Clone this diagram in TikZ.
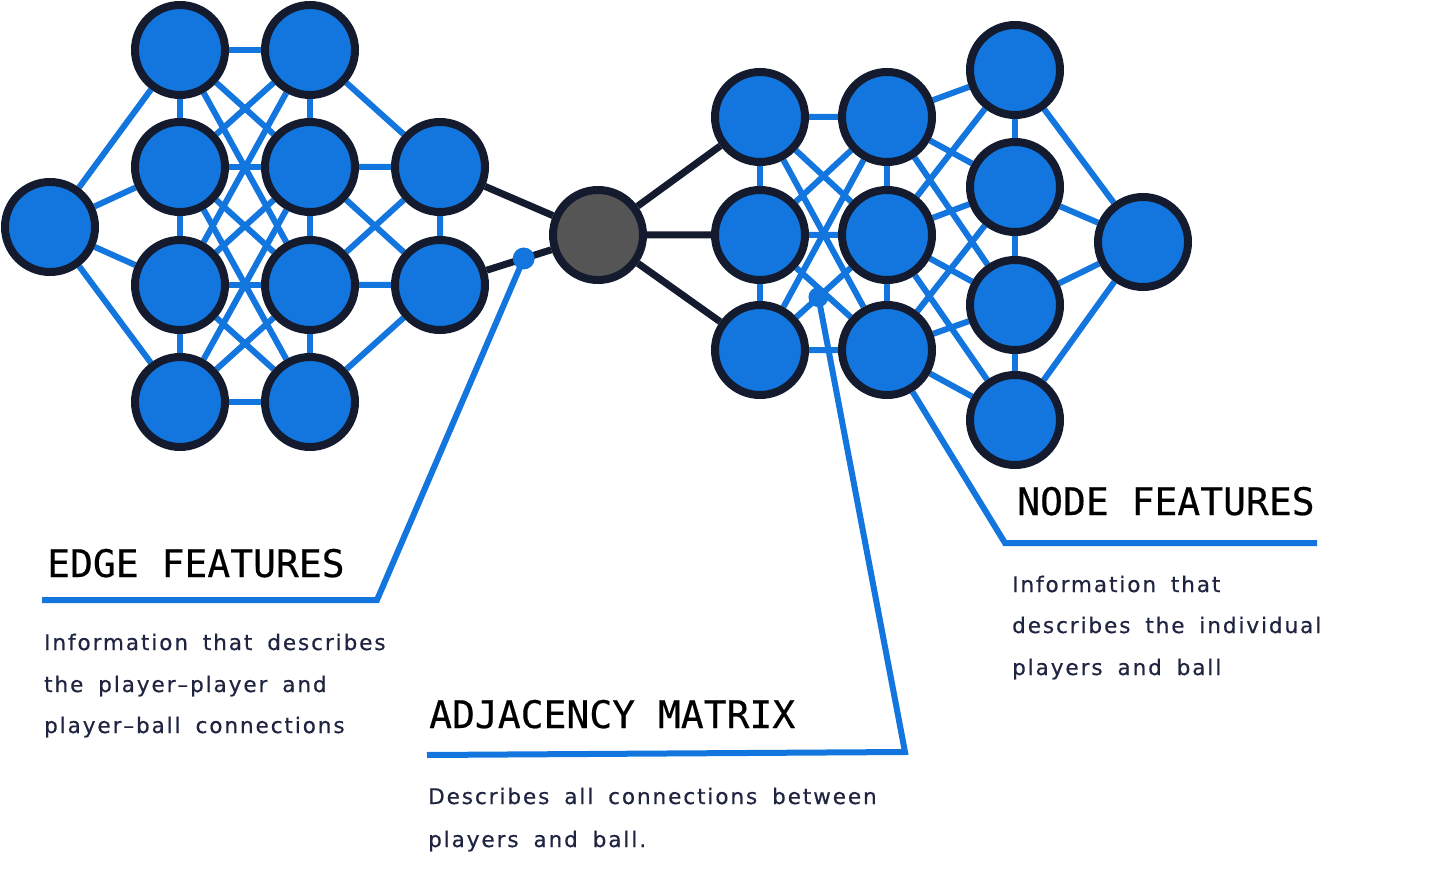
\documentclass[tikz,border=0pt]{standalone}
\usepackage{fontspec}
\usepackage{tikz}
\usetikzlibrary{calc,backgrounds}
\newfontfamily\headfont[FakeBold=0.4]{DejaVu Sans Mono}
\newfontfamily\bodyfont[LetterSpace=9,WordSpace=1.7,FakeBold=0.6]{DejaVu Sans}
\definecolor{netblue}{HTML}{1276DE}
\definecolor{netnavy}{HTML}{141B2F}
\definecolor{ballgray}{HTML}{555555}
\definecolor{bodynavy}{HTML}{1F2540}

\begin{document}
\begin{tikzpicture}[x=1pt,y=-1pt,
  player/.style={circle,draw=netnavy,line width=8pt,fill=netblue,minimum size=90pt,inner sep=0pt},
  ballnode/.style={player,fill=ballgray},
  link/.style={netblue,line width=6pt},
  hub/.style={netnavy,line width=7pt},
  pointer/.style={netblue,line width=6pt},
  heading/.style={anchor=base west,inner sep=0pt,text=black,font={\headfont\fontsize{38}{40}\selectfont}},
  caption/.style={anchor=base west,inner sep=0pt,text=bodynavy,font={\bodyfont\fontsize{21.5}{26}\selectfont}}]
\useasboundingbox (0,0) rectangle (1447,874);

% Left network
\node[player] (l0) at (50,227) {};
\node[player] (la1) at (180,50) {};
\node[player] (la2) at (180,167) {};
\node[player] (la3) at (180,285) {};
\node[player] (la4) at (180,402) {};
\node[player] (lb1) at (310,50) {};
\node[player] (lb2) at (310,167) {};
\node[player] (lb3) at (310,285) {};
\node[player] (lb4) at (310,402) {};
\node[player] (lc1) at (440,167) {};
\node[player] (lc2) at (440,285) {};

% Ball in the middle
\node[ballnode] (ball) at (598,235) {};

% Right network
\node[player] (ra1) at (760,117) {};
\node[player] (ra2) at (760,235) {};
\node[player] (ra3) at (760,350) {};
\node[player] (rb1) at (887,117) {};
\node[player] (rb2) at (887,235) {};
\node[player] (rb3) at (887,350) {};
\node[player] (rc1) at (1015,70) {};
\node[player] (rc2) at (1015,187) {};
\node[player] (rc3) at (1015,305) {};
\node[player] (rc4) at (1015,420) {};
\node[player] (rd) at (1143,242) {};

% Connections (behind the nodes)
\begin{pgfonlayer}{background}
\draw[link] (l0) -- (la1) (l0) -- (la2) (l0) -- (la3) (l0) -- (la4);
\draw[link] (la1) -- (la2) -- (la3) -- (la4) (lb1) -- (lb2) -- (lb3) -- (lb4);
\draw[link] (la1) -- (lb1) (la2) -- (lb2) (la3) -- (lb3) (la4) -- (lb4);
\draw[link] (la1) -- (lb2) (la1) -- (lb3) (la2) -- (lb1) (la2) -- (lb3) (la2) -- (lb4);
\draw[link] (la3) -- (lb1) (la3) -- (lb2) (la3) -- (lb4) (la4) -- (lb2) (la4) -- (lb3);
\draw[link] (lb1) -- (lc1) (lb2) -- (lc1) (lb2) -- (lc2) (lb3) -- (lc1) (lb3) -- (lc2) (lb4) -- (lc2) (lc1) -- (lc2);

\draw[hub] (lc1) -- (ball) (lc2) -- (ball);
\draw[hub] (ball) -- (ra1) (ball) -- (ra2) (ball) -- (ra3);

\draw[link] (ra1) -- (ra2) -- (ra3) (rb1) -- (rb2) -- (rb3) (rc1) -- (rc2) -- (rc3) -- (rc4);
\draw[link] (ra1) -- (rb1) (ra1) -- (rb2) (ra1) -- (rb3);
\draw[link] (ra2) -- (rb1) (ra2) -- (rb2) (ra2) -- (rb3);
\draw[link] (ra3) -- (rb1) (ra3) -- (rb2) (ra3) -- (rb3);
\draw[link] (rb1) -- (rc1) (rb1) -- (rc2) (rb1) -- (rc3);
\draw[link] (rb2) -- (rc1) (rb2) -- (rc2) (rb2) -- (rc3) (rb2) -- (rc4);
\draw[link] (rb3) -- (rc2) (rb3) -- (rc3) (rb3) -- (rc4);
\draw[link] (rc1) -- (rd) (rc2) -- (rd) (rc3) -- (rd) (rc4) -- (rd);
\end{pgfonlayer}

% Pointers to the labels
\coordinate (edgedot) at ($(lc2)!0.53!(ball)$);
\coordinate (edgebend) at (377,600);
\coordinate (edgeend) at (42,600);
\fill[netblue] (edgedot) circle (11pt);
\draw[pointer] (edgedot) -- (edgebend) -- (edgeend);

\coordinate (adjdot) at ($(ra3)!0.46!(rb2)$);
\coordinate (adjbend) at (905,752);
\coordinate (adjend) at (427,755);
\fill[netblue] (adjdot) circle (10pt);
\draw[pointer] (adjdot) -- (adjbend) -- (adjend);

\coordinate (nodebend) at (1005,543);
\coordinate (nodeend) at (1317,543);
\draw[pointer] (rb3) -- (nodebend) -- (nodeend);

% Labels
\node[heading] (edgehead) at (47,577) {EDGE FEATURES};
\node[caption] (edgeline1) at (44,650) {Information that describes};
\node[caption] (edgeline2) at (44,692) {the player–player and};
\node[caption] (edgeline3) at (44,733) {player–ball connections};

\node[heading] (adjhead) at (429,728) {ADJACENCY MATRIX};
\node[caption] (adjline1) at (428,804) {Describes all connections between};
\node[caption] (adjline2) at (428,847) {players and ball.};

\node[heading] (nodehead) at (1017,515) {NODE FEATURES};
\node[caption] (nodeline1) at (1012,592) {Information that};
\node[caption] (nodeline2) at (1012,633) {describes the individual};
\node[caption] (nodeline3) at (1012,675) {players and ball};
\end{tikzpicture}
\end{document}
